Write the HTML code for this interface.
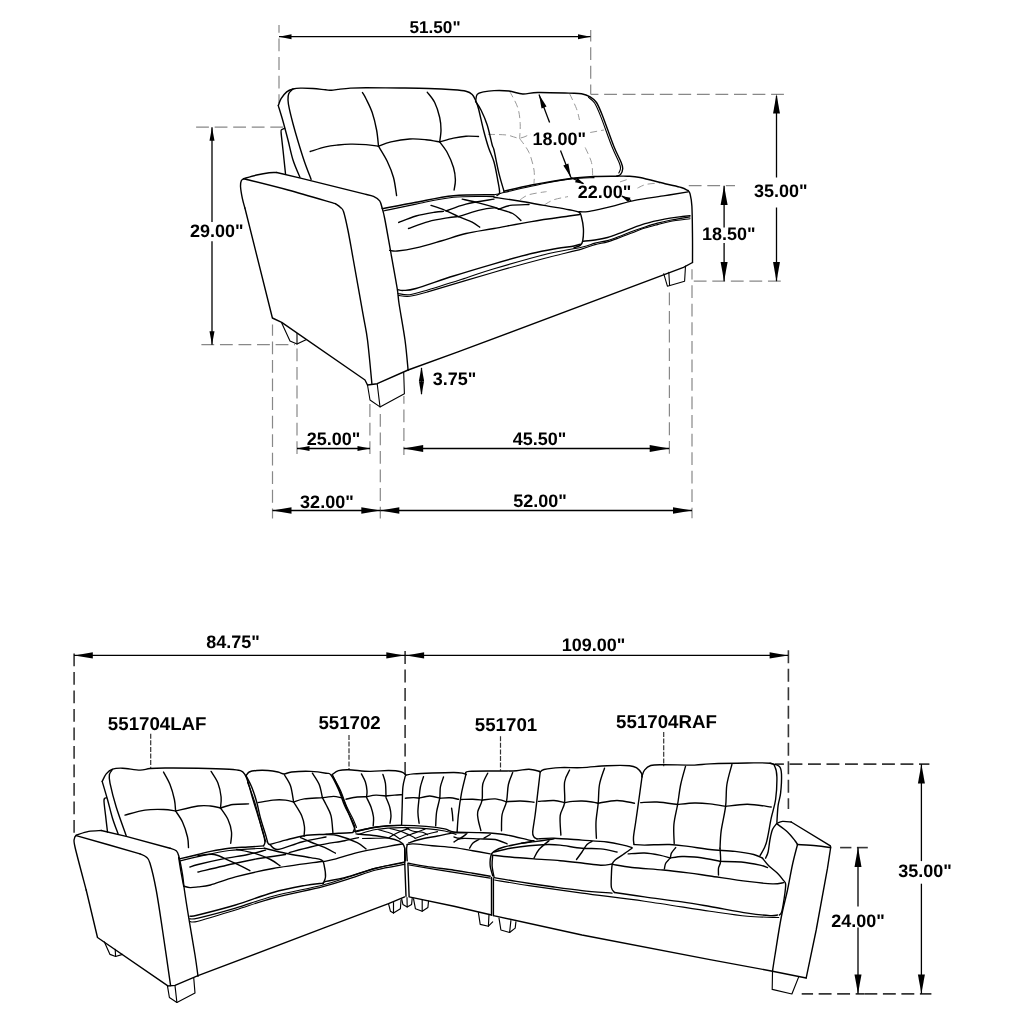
<!DOCTYPE html>
<html><head><meta charset="utf-8"><title>Sectional sofa dimensions</title>
<style>
html,body{margin:0;padding:0;background:#fff;}
body{width:1024px;height:1024px;overflow:hidden;font-family:"Liberation Sans",sans-serif;}
svg{display:block;filter:grayscale(1);}
</style></head><body>
<svg width="1024" height="1024" viewBox="0 0 1024 1024">
<rect width="1024" height="1024" fill="#fff"/>
<g fill="none" stroke="#888" stroke-width="1.2" stroke-dasharray="12.8 5.75">
<path d="M279 25L279 103" stroke-dashoffset="5"/>
<path d="M590.7 30L590.7 94.3" stroke-dashoffset="1.25"/>
<path d="M196.1 127.2L284.5 127.2" stroke-dashoffset="0"/>
<path d="M201.4 344.7L295 344.7" stroke-dashoffset="0"/>
<path d="M590.7 94.3L784 94.3" stroke-dashoffset="5.1"/>
<path d="M692.5 281.2L784 281.2" stroke-dashoffset="17.3"/>
<path d="M688.5 185.7L735 185.7" stroke-dashoffset="18.3"/>
<path d="M272.5 324.5L272.5 518.5" stroke-dashoffset="1.6"/>
<path d="M297 345L297 454.8" stroke-dashoffset="15.05"/>
<path d="M369.9 402.5L369.9 454.6" stroke-dashoffset="16.95"/>
<path d="M380.3 413.9L380.3 518.4" stroke-dashoffset="0"/>
<path d="M403.9 396L403.9 454.9" stroke-dashoffset="5"/>
<path d="M669.4 291L669.4 455" stroke-dashoffset="17.05"/>
<path d="M692 269.2L692 518.3" stroke-dashoffset="2.5"/>
</g>
<g fill="none" stroke="#9a9a9a" stroke-width="1.0" stroke-dasharray="7 4">
<path d="M509.6 91.2C510.95 93.92 515.93 102.08 517.7 107.5C519.47 112.92 519.88 118.55 520.2 123.7C520.52 128.85 519.7 135.95 519.6 138.4"/>
<path d="M519.6 138.4C521.17 140.75 526.6 147.23 529 152.5C531.4 157.77 533.17 164.8 534 170C534.83 175.2 534 181.42 534 183.7"/>
<path d="M488 134.4C491.08 134.5 501.23 134.38 506.5 135C511.77 135.62 515.52 138.3 519.6 138.1C523.68 137.9 529.1 134.52 531 133.8"/>
<path d="M590.2 132.5L604 130"/>
<path d="M569.6 93.7C570.75 96.2 574.85 104.32 576.5 108.7C578.15 113.08 579 118.12 579.5 120"/>
<path d="M585.2 147.5C586.25 150 590.25 157.6 591.5 162.5C592.75 167.4 592.5 174.5 592.7 176.9"/>
<path d="M520.2 199.7C521.67 198.87 524.62 196.05 529 194.7C533.38 193.35 543.58 192.12 546.5 191.6"/>
<path d="M544.6 204.7C546.17 203.87 550.1 201.05 554 199.7C557.9 198.35 565.67 197.12 568 196.6"/>
<path d="M620 181.9L627.5 179.4"/>
<path d="M637.5 188.1C638.95 187.48 642.45 185.25 646.2 184.4C649.95 183.55 657.7 183.23 660 183"/>
</g>
<g fill="none" stroke="#363636" stroke-width="1.6" stroke-dasharray="12.9 5.6">
<path d="M74.1 650.6L74.1 835.8" stroke-dashoffset="15.7"/>
<path d="M405.1 650.5L405.1 775" stroke-dashoffset="17.9"/>
<path d="M788.4 650.3L788.4 808.9" stroke-dashoffset="0"/>
<path d="M775 764.1L929.4 764.1" stroke-dashoffset="4"/>
<path d="M840.1 847.6L851.4 847.6" stroke-dasharray="none"/>
<path d="M856.9 847.6L867.8 847.6" stroke-dasharray="none"/>
<path d="M801.7 993.9L864.4 993.9" stroke-dashoffset="1.55"/>
<path d="M864.4 993.9L931.4 993.9" stroke-dashoffset="0"/>
</g>
<g fill="none" stroke="#333" stroke-width="1.2" stroke-dasharray="5 1.6">
<path d="M150.7 733.7L150.7 768.7"/>
<path d="M349 735L349 769.5"/>
<path d="M500.5 736.2L500.5 770.7"/>
<path d="M663.7 732L663.7 766.2"/>
</g>
<g fill="none" stroke="#000" stroke-width="1.4" stroke-linecap="round" stroke-linejoin="round">
<path d="M278.3 105.6C278.77 104.45 279.7 100.98 281.1 98.7C282.5 96.42 284.72 93.52 286.7 91.9C288.68 90.28 290.7 89.63 293 89C295.3 88.37 297.17 88.18 300.5 88.1C303.83 88.02 308.83 88.22 313 88.5C317.17 88.78 322.38 89.5 325.5 89.8C328.62 90.1 329.62 90.37 331.7 90.3C333.78 90.23 334.87 89.77 338 89.4C341.13 89.03 345.83 88.38 350.5 88.1C355.17 87.82 357.75 87.72 366 87.7C374.25 87.68 389.58 87.87 400 88C410.42 88.13 419.58 88.2 428.5 88.5C437.42 88.8 447.25 89.33 453.5 89.8C459.75 90.27 462.88 90.53 466 91.3C469.12 92.07 470.63 92.95 472.2 94.4C473.77 95.85 474.35 97.62 475.4 100C476.45 102.38 477.15 103.7 478.5 108.7C479.85 113.7 481.83 123.53 483.5 130C485.17 136.47 486.75 142.17 488.5 147.5C490.25 152.83 492.47 156.58 494 162C495.53 167.42 496.77 174.92 497.7 180C498.63 185.08 499.72 189.92 499.6 192.5C499.48 195.08 497.43 195 497 195.5"/>
<path d="M293 89C292.3 89.75 289.63 91.67 288.8 93.5C287.97 95.33 287.92 97.47 288 100C288.08 102.53 288.47 104.75 289.3 108.7C290.13 112.65 291.55 118.28 293 123.7C294.45 129.12 296.12 134.95 298 141.2C299.88 147.45 302.12 154.83 304.3 161.2C306.48 167.57 309.97 176.37 311.1 179.4"/>
<path d="M278.3 105.6C279.08 108.2 281.38 115.47 283 121.2C284.62 126.93 286.33 133.53 288 140C289.67 146.47 291.02 153.78 293 160C294.98 166.22 298.75 174.42 299.9 177.3"/>
<path d="M284.6 128.3C284.1 128.55 282.18 129.1 281.6 129.8C281.02 130.5 280.87 129.13 281.1 132.5C281.33 135.87 282.27 143.13 283 150C283.73 156.87 285.08 169.75 285.5 173.7"/>
<path d="M310.2 151.5C312.75 150.73 320.87 147.98 325.5 146.9C330.13 145.82 333.83 145.47 338 145C342.17 144.53 345.83 144.17 350.5 144.1C355.17 144.03 361.33 144.25 366 144.6C370.67 144.95 376.42 145.93 378.5 146.2"/>
<path d="M362.4 92.5C363 93.53 364.37 95.37 366 98.7C367.63 102.03 370.43 107.28 372.2 112.5C373.97 117.72 375.55 124.38 376.6 130C377.65 135.62 378.18 143.5 378.5 146.2"/>
<path d="M378.5 146.2C380.58 145.48 385.8 143.1 391 141.9C396.2 140.7 403.87 139.37 409.7 139C415.53 138.63 421 139.22 426 139.7C431 140.18 437.42 141.53 439.7 141.9"/>
<path d="M427.2 92.2C428.45 93.92 432.62 98.28 434.7 102.5C436.78 106.72 438.65 112.92 439.7 117.5C440.75 122.08 441 125.93 441 130C441 134.07 439.92 139.92 439.7 141.9"/>
<path d="M439.7 141.9C442 141.27 449.12 139.05 453.5 138.1C457.88 137.15 461.83 136.47 466 136.2C470.17 135.93 476.42 136.45 478.5 136.5"/>
<path d="M378.5 146.2C379.95 148.7 384.7 155.98 387.2 161.2C389.7 166.42 391.93 171.77 393.5 177.5C395.07 183.23 396.08 192.58 396.6 195.6"/>
<path d="M439.7 141.9C440.95 143.67 444.9 148.23 447.2 152.5C449.5 156.77 452.13 162.92 453.5 167.5C454.87 172.08 455.3 176.25 455.4 180C455.5 183.75 454.32 188.33 454.1 190"/>
<path d="M475.6 101.5C475.87 100.32 475.88 96 477.2 94.4C478.52 92.8 480.7 92.53 483.5 91.9C486.3 91.27 489.75 90.75 494 90.6C498.25 90.45 504.22 90.43 509 91C513.78 91.57 517.92 93.75 522.7 94C527.48 94.25 529.98 92.65 537.7 92.5C545.42 92.35 561.7 92.9 569 93.1C576.3 93.3 577.97 93.07 581.5 93.7C585.03 94.33 587.7 95.43 590.2 96.9C592.7 98.37 594.42 99.28 596.5 102.5C598.58 105.72 599.83 108.95 602.7 116.2C605.57 123.45 610.62 138.28 613.7 146C616.78 153.72 619.7 158.72 621.2 162.5C622.7 166.28 622.8 166.72 622.7 168.7C622.6 170.68 621.57 173.15 620.6 174.4C619.63 175.65 617.52 175.9 616.9 176.2"/>
<path d="M475.6 101.5C476.5 102.92 479.07 106.08 481 110C482.93 113.92 485.33 119.17 487.2 125C489.07 130.83 491.07 140.83 492.2 145C493.33 149.17 492.87 145.22 494 150C495.13 154.78 497.33 166.83 499 173.7C500.67 180.57 503.17 188.28 504 191.2"/>
<path d="M504 191.2C508.58 190.17 520.67 187.08 531.5 185C542.33 182.92 558.58 180.12 569 178.7C579.42 177.28 586.02 176.92 594 176.5C601.98 176.08 613.08 176.25 616.9 176.2"/>
<path d="M243.6 178.7C245.78 178.08 252.43 176 256.7 175C260.97 174 265.87 173.12 269.2 172.7C272.53 172.28 275.45 172.53 276.7 172.5"/>
<path d="M276.7 172.5L300.5 178.1L366 194.4"/>
<path d="M366 194.4C367.25 194.73 371.22 195.33 373.5 196.4C375.78 197.47 378.25 198.82 379.7 200.8C381.15 202.78 381.78 207.05 382.2 208.3"/>
<path d="M382.2 208.3C382.62 210 383.23 210.97 384.7 218.5C386.17 226.03 388.92 241.83 391 253.5C393.08 265.17 395.85 280.08 397.2 288.5C398.55 296.92 397.8 295.42 399.1 304C400.4 312.58 403.5 329 405 340C406.5 351 407.58 365 408.1 370"/>
<path d="M243.6 178.7C251 180.58 272.68 185.83 288 190C303.32 194.17 327.58 201.42 335.5 203.7"/>
<path d="M335.5 203.7C336.33 204.33 339.15 206.17 340.5 207.5C341.85 208.83 342.35 207.87 343.6 211.7C344.85 215.53 346.43 222.78 348 230.5C349.57 238.22 350.5 244.05 353 258C355.5 271.95 360.58 300.53 363 314.2C365.42 327.87 366.02 328.42 367.5 340C368.98 351.58 371.17 376.42 371.9 383.7"/>
<path d="M243.6 178.7C243.22 179.05 241.82 179.55 241.3 180.8C240.78 182.05 240.32 183.22 240.5 186.2C240.68 189.18 241.67 195.07 242.4 198.7C243.13 202.33 244.48 206.45 244.9 208"/>
<path d="M244.9 208L272.4 318L281.7 322.4L365 380L367.5 385"/>
<path d="M367.5 385L377.2 383.7L408.1 370"/>
<path d="M408.1 370L458 351.9L683.5 267.3L692.5 262.5"/>
<path d="M688.1 190.6C688.42 191.12 689.37 191.1 690 193.7C690.63 196.3 691.48 198.9 691.9 206.2C692.32 213.5 692.4 228.12 692.5 237.5C692.6 246.88 692.5 258.33 692.5 262.5"/>
<path d="M383.5 208.5C388.92 207.45 404.33 204.33 416 202.2C427.67 200.07 440.5 196.95 453.5 195.7C466.5 194.45 487.25 194.87 494 194.7"/>
<path d="M494 197.2C498.17 197.83 510.67 199.63 519 201C527.33 202.37 535.67 203.95 544 205.4C552.33 206.85 563.17 208.57 569 209.7C574.83 210.83 576.92 210.95 579 212.2C581.08 213.45 580.77 214.48 581.5 217.2C582.23 219.92 583.2 224.53 583.4 228.5C583.6 232.47 583.23 238.18 582.7 241C582.17 243.82 581.65 244.25 580.2 245.4C578.75 246.55 575.03 247.48 574 247.9"/>
<path d="M389.7 250.4C390.95 250.5 392.82 251.42 397.2 251C401.58 250.58 408.7 249.57 416 247.9C423.3 246.23 432.67 243.4 441 241C449.33 238.6 457.17 235.58 466 233.5C474.83 231.42 483.08 230.48 494 228.5C504.92 226.52 519 223.68 531.5 221.6C544 219.52 560.98 217.18 569 216C577.02 214.82 577.83 214.75 579.6 214.5"/>
<path d="M397.9 289.7C398.83 289.82 400.48 290.6 403.5 290.4C406.52 290.2 407.67 290.9 416 288.5C424.33 286.1 440.5 280.12 453.5 276C466.5 271.88 481 267.55 494 263.8C507 260.05 521.08 256.05 531.5 253.5C541.92 250.95 549.42 249.75 556.5 248.5C563.58 247.25 570.05 246.73 574 246C577.95 245.27 579.17 244.42 580.2 244.1"/>
<path d="M398.7 222.5C401.58 221.42 410 217.72 416 216C422 214.28 430.12 212.97 434.7 212.2C439.28 211.43 442.03 211.53 443.5 211.4"/>
<path d="M408.5 228.5C411.83 227.35 422.05 223.37 428.5 221.6C434.95 219.83 442.2 218.73 447.2 217.9C452.2 217.07 456.62 216.82 458.5 216.6"/>
<path d="M431 205.4C433.08 206.12 438.92 207.83 443.5 209.7C448.08 211.57 453.72 214.52 458.5 216.6C463.28 218.68 468.67 220.43 472.2 222.2C475.73 223.97 478.45 226.37 479.7 227.2"/>
<path d="M446 211C449.33 209.85 458 206.08 466 204.1C474 202.12 489.33 199.93 494 199.1"/>
<path d="M458.5 216.6C461.83 215.57 472.58 211.85 478.5 210.4C484.42 208.95 490.58 208.12 494 207.9C497.42 207.68 498.17 208.9 499 209.1"/>
<path d="M462.2 199.1C464.92 199.73 473.2 201.55 478.5 202.9C483.8 204.25 490.58 206.17 494 207.2C497.42 208.23 498.17 208.78 499 209.1"/>
<path d="M499 209.1C500.87 208.48 505.2 206.17 510.2 205.4C515.2 204.63 525.87 204.65 529 204.5"/>
<path d="M499 209.1C501.28 209.83 509.05 211.62 512.7 213.5C516.35 215.38 519.53 219.25 520.9 220.4"/>
<path d="M616.9 176.2C618.67 176.2 623.65 175.98 627.5 176.2C631.35 176.42 633.75 176.25 640 177.5C646.25 178.75 658.13 182.03 665 183.7C671.87 185.37 677.35 186.35 681.2 187.5C685.05 188.65 686.95 190.08 688.1 190.6"/>
<path d="M579 211.8C580.45 211.77 584.17 212.05 587.7 211.6C591.23 211.15 595.65 210.1 600.2 209.1C604.75 208.1 609.42 207.02 615 205.6C620.58 204.18 625.37 202.27 633.7 200.6C642.03 198.93 655.93 197.05 665 195.6C674.07 194.15 684.25 192.52 688.1 191.9"/>
<path d="M583.1 241.2C585.08 241 590.93 240.62 595 240C599.07 239.38 603.33 238.65 607.5 237.5C611.67 236.35 615.83 234.67 620 233.1C624.17 231.53 628.33 229.67 632.5 228.1C636.67 226.53 640.83 224.95 645 223.7C649.17 222.45 653.33 221.53 657.5 220.6C661.67 219.67 665.83 218.78 670 218.1C674.17 217.42 679.17 216.92 682.5 216.5C685.83 216.08 688.75 215.75 690 215.6"/>
</g>
<g fill="none" stroke="#000" stroke-width="1.1" stroke-linecap="round" stroke-linejoin="round">
<path d="M588.5 97.3C589.52 98.25 592.55 99.78 594.6 103C596.65 106.22 597.92 109.35 600.8 116.6C603.68 123.85 608.82 138.77 611.9 146.5C614.98 154.23 617.87 159.33 619.3 163C620.73 166.67 620.58 166.83 620.5 168.5C620.42 170.17 619.08 172.25 618.8 173"/>
<path d="M494 194.7C495.03 194.5 498.33 193.92 500.2 193.5C502.07 193.08 497.9 193.87 505.2 192.2C512.5 190.53 532.95 185.72 544 183.5C555.05 181.28 563.17 179.88 571.5 178.9C579.83 177.92 590.25 177.82 594 177.6"/>
<path d="M281.7 323L290 341L297 344L306 339.7"/>
<path d="M297 333.5L297 344"/>
<path d="M367.5 385L370 400L380 406.9L404.4 393.7L403.7 372.5"/>
<path d="M377.2 383.7L380 406.9"/>
<path d="M663.7 273.7L667.4 286.2L684.6 281.2L685.5 266"/>
<path d="M668.8 272.2L669.6 285.5"/>
<path d="M383.5 211C388.92 209.85 404.33 206.4 416 204.1C427.67 201.8 440.5 198.45 453.5 197.2C466.5 195.95 487.25 196.7 494 196.6"/>
<path d="M397.9 293.5C399.87 293.7 404.6 295.33 409.7 294.7C414.8 294.07 419.12 292.5 428.5 289.7C437.88 286.9 455.08 281.38 466 277.9C476.92 274.42 481 272.67 494 268.8C507 264.93 529.42 258.3 544 254.7C558.58 251.1 573 249.13 581.5 247.2C590 245.27 590.67 244.2 595 243.1C599.33 242 603.33 241.75 607.5 240.6C611.67 239.45 615.83 237.77 620 236.2C624.17 234.63 628.33 232.75 632.5 231.2C636.67 229.65 640.83 228.25 645 226.9C649.17 225.55 653.33 224.22 657.5 223.1C661.67 221.98 665.83 221.03 670 220.2C674.17 219.37 679.17 218.65 682.5 218.1C685.83 217.55 688.75 217.1 690 216.9"/>
<path d="M398.5 295.4C400.37 295.53 404.7 296.83 409.7 296.2C414.7 295.57 414.45 295.6 428.5 291.6C442.55 287.6 474.75 277.72 494 272.2C513.25 266.68 529.42 262.35 544 258.5C558.58 254.65 573 251.42 581.5 249.1C590 246.78 590.67 245.8 595 244.6C599.33 243.4 603.33 243.08 607.5 241.9C611.67 240.72 615.83 239.03 620 237.5C624.17 235.97 628.33 234.27 632.5 232.7C636.67 231.13 640.83 229.45 645 228.1C649.17 226.75 653.33 225.7 657.5 224.6C661.67 223.5 664.58 222.48 670 221.5C675.42 220.52 686.67 219.17 690 218.7"/>
</g>
<g fill="none" stroke="#000" stroke-width="1.4" stroke-linecap="round" stroke-linejoin="round">
<path d="M102.2 781.4C102.87 780.15 104.48 775.93 106.2 773.9C107.92 771.87 109.78 770.15 112.5 769.2C115.22 768.25 117.92 768.05 122.5 768.2C127.08 768.35 135.42 770.05 140 770.1C144.58 770.15 145.83 768.85 150 768.5C154.17 768.15 157 768.05 165 768C173 767.95 187.3 768 198 768.2C208.7 768.4 222.12 768.78 229.2 769.2C236.28 769.62 237.88 769.82 240.5 770.7C243.12 771.58 243.65 772.62 244.9 774.5C246.15 776.38 246.65 777.83 248 782C249.35 786.17 251.33 793.88 253 799.5C254.67 805.12 256.33 810.28 258 815.7C259.67 821.12 261.85 827.62 263 832C264.15 836.38 264.8 839.72 264.9 842C265 844.28 263.82 845.08 263.6 845.7"/>
<path d="M112.5 769.5C111.98 770.33 109.82 772.22 109.4 774.5C108.98 776.78 108.87 777.78 110 783.2C111.13 788.62 113.5 798.25 116.2 807C118.9 815.75 124.53 830.92 126.2 835.7"/>
<path d="M102.2 781.4C103.08 784.42 105.78 793.37 107.5 799.5C109.22 805.63 110.73 812.47 112.5 818.2C114.27 823.93 117.17 831.28 118.1 833.9"/>
<path d="M106.4 797.8C106 798.18 104.13 797.12 104 800.1C103.87 803.08 105.02 810.38 105.6 815.7C106.18 821.02 107.18 829.28 107.5 832"/>
<path d="M263.6 845.9C261 846.08 253.73 846.62 248 847C242.27 847.38 235.45 847.47 229.2 848.2C222.95 848.93 215.7 850.35 210.5 851.4C205.3 852.45 203.18 853.25 198 854.5C192.82 855.75 182.5 858.17 179.4 858.9"/>
<path d="M125 815.1C128.33 814.27 138.55 811.03 145 810.1C151.45 809.17 158.6 809.35 163.7 809.5C168.8 809.65 173.62 810.75 175.6 811"/>
<path d="M163.5 772C164.58 774.08 168.18 779.92 170 784.5C171.82 789.08 173.47 795.08 174.4 799.5C175.33 803.92 175.4 809.08 175.6 811"/>
<path d="M175.6 811C179.33 810.17 192.18 806.83 198 806C203.82 805.17 206.75 805.67 210.5 806C214.25 806.33 218.83 807.67 220.5 808"/>
<path d="M175.6 811C176.75 812.83 180.52 817.67 182.5 822C184.48 826.33 186.5 832.73 187.5 837C188.5 841.27 188.33 845.83 188.5 847.6"/>
<path d="M211.1 771.4C212.25 773.37 216.33 778.93 218 783.2C219.67 787.47 220.68 792.87 221.1 797C221.52 801.13 220.6 806.17 220.5 808"/>
<path d="M220.5 808C222.58 807.42 228.32 805.18 233 804.5C237.68 803.82 246 804 248.6 803.9"/>
<path d="M220.5 808C221.75 809.92 226.17 815.5 228 819.5C229.83 823.5 231.05 828.05 231.5 832C231.95 835.95 230.83 841.33 230.7 843.2"/>
<path d="M246.1 775.7C246.62 775.08 247.43 772.87 249.2 772C250.97 771.13 253.57 770.75 256.7 770.5C259.83 770.25 264.45 770.25 268 770.5C271.55 770.75 275.3 771.43 278 772C280.7 772.57 281.92 773.9 284.2 773.9C286.48 773.9 287.32 772.42 291.7 772C296.08 771.58 304.78 771.2 310.5 771.4C316.22 771.6 322.58 772.58 326 773.2C329.42 773.82 328.92 772.38 331 775.1C333.08 777.82 336.22 784.4 338.5 789.5C340.78 794.6 342.62 800.92 344.7 805.7C346.78 810.48 349.33 814.65 351 818.2C352.67 821.75 354.38 824.65 354.7 827C355.02 829.35 353.2 831.42 352.9 832.3"/>
<path d="M246.1 775.7C247.03 777.58 249.93 782.62 251.7 787C253.47 791.38 255.23 796.8 256.7 802C258.17 807.2 259.03 812.78 260.5 818.2C261.97 823.62 264.25 830.33 265.5 834.5C266.75 838.67 267.27 841.53 268 843.2C268.73 844.87 269.58 844.28 269.9 844.5"/>
<path d="M269.9 844.5C272.5 843.77 279.78 841.57 285.5 840.1C291.22 838.63 297.45 836.68 304.2 835.7C310.95 834.72 320.28 834.62 326 834.2C331.72 833.78 334.02 833.47 338.5 833.2C342.98 832.93 350.5 832.7 352.9 832.6"/>
<path d="M258 802.6C260.5 802.18 268.42 800.52 273 800.1C277.58 799.68 282.07 799.78 285.5 800.1C288.93 800.42 292.25 801.68 293.6 802"/>
<path d="M293.6 802C295.37 801.48 299.3 799.63 304.2 798.9C309.1 798.17 318.12 798.02 323 797.6C327.88 797.18 330.5 796.4 333.5 796.4C336.5 796.4 339.75 797.4 341 797.6"/>
<path d="M284.2 774.5C285.25 776.37 288.93 781.12 290.5 785.7C292.07 790.28 293.08 799.28 293.6 802"/>
<path d="M293.6 802C294.95 804.28 299.88 811.53 301.7 815.7C303.52 819.87 304.12 823.55 304.5 827C304.88 830.45 304.08 834.83 304 836.4"/>
<path d="M312.4 773.2C313.53 775.08 317.53 780.43 319.2 784.5C320.87 788.57 321.87 795.42 322.4 797.6"/>
<path d="M322.4 797.6C323 798.75 324.57 801.48 326 804.5C327.43 807.52 329.85 811.02 331 815.7C332.15 820.38 332.58 829.78 332.9 832.6"/>
<path d="M332.2 774.5C333.25 773.87 335.78 771.5 338.5 770.7C341.22 769.9 343.3 769.58 348.5 769.7C353.7 769.82 363.03 771.27 369.7 771.4C376.37 771.53 383.28 770.45 388.5 770.5C393.72 770.55 398.08 770.98 401 771.7C403.92 772.42 405.17 774.28 406 774.8"/>
<path d="M332.2 774.5C333.45 777.2 337.2 784.87 339.7 790.7C342.2 796.53 344.8 803.45 347.2 809.5C349.6 815.55 352.77 823.42 354.1 827C355.43 830.58 355.02 830.33 355.2 831"/>
<path d="M405.4 775.7C404.98 777.58 403.43 782 402.9 787C402.37 792 402.42 799.35 402.2 805.7C401.98 812.05 401.7 821.87 401.6 825.1"/>
<path d="M354.7 831.4C357.2 830.87 364.07 829.15 369.7 828.2C375.33 827.25 383.18 826.17 388.5 825.7C393.82 825.23 399.42 825.45 401.6 825.4"/>
<path d="M346 799.2C347.87 798.83 353.77 797.42 357.2 797C360.63 796.58 365.03 796.75 366.6 796.7"/>
<path d="M366.6 796.7C368.17 796.43 372.77 795.22 376 795.1C379.23 794.98 384.33 795.85 386 796"/>
<path d="M386 796C387.45 795.85 392.1 795.32 394.7 795.1C397.3 794.88 400.45 794.77 401.6 794.7"/>
<path d="M361.4 773.9C362.07 775.25 364.47 779.2 365.4 782C366.33 784.8 366.8 788.25 367 790.7C367.2 793.15 366.67 795.7 366.6 796.7"/>
<path d="M366.6 797.5C367.33 799.08 369.85 803.75 371 807C372.15 810.25 373.13 813.88 373.5 817C373.87 820.12 373.25 824.25 373.2 825.7"/>
<path d="M382.9 774.5C383.32 775.95 384.88 779.62 385.4 783.2C385.92 786.78 385.9 793.87 386 796"/>
<path d="M386 797.5C386.62 799.08 388.87 803.97 389.7 807C390.53 810.03 390.95 813 391 815.7C391.05 818.4 390.17 821.95 390 823.2"/>
<path d="M406 775.1C407.25 774.9 409.13 774.25 413.5 773.9C417.87 773.55 425.45 773.23 432.2 773C438.95 772.77 448.92 772.47 454 772.5C459.08 772.53 460.72 772.87 462.7 773.2C464.68 773.53 465.37 774.28 465.9 774.5"/>
<path d="M405.4 798.2C406.75 798.1 411.22 797.6 413.5 797.6C415.78 797.6 418.17 798.1 419.1 798.2"/>
<path d="M419.1 798.2C420.87 797.83 426.27 796 429.7 796C433.13 796 438.03 797.83 439.7 798.2"/>
<path d="M439.7 798.2C441.42 798.13 446.87 797.62 450 797.8C453.13 797.98 457.08 799.05 458.5 799.3"/>
<path d="M423.5 776.7C422.98 778.42 421.13 783.42 420.4 787C419.67 790.58 419.52 794.03 419.1 798.2C418.68 802.37 417.9 807.83 417.9 812C417.9 816.17 418.9 821.33 419.1 823.2"/>
<path d="M443.5 777C442.98 778.67 441.03 783.47 440.4 787C439.77 790.53 440.33 794.03 439.7 798.2C439.07 802.37 437.27 807.42 436.6 812C435.93 816.58 435.85 823.42 435.7 825.7"/>
<path d="M451.6 808.2C451.73 809.17 452.18 811.92 452.4 814C452.62 816.08 452.82 819.58 452.9 820.7"/>
<path d="M465.9 774.5C466.42 773.98 463.28 771.98 469 771.4C474.72 770.82 492.28 771.12 500.2 771C508.12 770.88 511.7 771 516.5 770.7C521.3 770.4 525.05 769.05 529 769.2C532.95 769.35 538.33 771.2 540.2 771.6"/>
<path d="M465.9 774.5C465.17 777.62 462.75 786.53 461.5 793.2C460.25 799.87 459.13 808.03 458.4 814.5C457.67 820.97 457.32 829.08 457.1 832"/>
<path d="M540.2 772C539.78 775.53 538.53 786.12 537.7 793.2C536.87 800.28 536.03 808.03 535.2 814.5C534.37 820.97 532.9 828.25 532.7 832C532.5 835.75 533.27 835.85 534 837C534.73 838.15 536.58 838.58 537.1 838.9"/>
<path d="M461.5 799.5C463.37 799.45 469.27 799.1 472.7 799.2C476.13 799.3 480.53 799.95 482.1 800.1"/>
<path d="M482.1 800.1C484.28 799.9 491.13 798.63 495.2 798.9C499.27 799.17 504.62 801.23 506.5 801.7"/>
<path d="M506.5 801.7C508.78 801.58 515.62 800.92 520.2 801C524.78 801.08 531.7 802 534 802.2"/>
<path d="M487.7 773.2C486.87 775.08 483.63 780.02 482.7 784.5C481.77 788.98 482.93 795.52 482.1 800.1C481.27 804.68 478.32 808.57 477.7 812C477.08 815.43 477.87 817.62 478.4 820.7C478.93 823.78 480.48 828.87 480.9 830.5"/>
<path d="M512.7 772.6C511.98 774.58 509.43 779.65 508.4 784.5C507.37 789.35 507.55 796.7 506.5 801.7C505.45 806.7 502.93 809.67 502.1 814.5C501.27 819.33 501.6 828 501.5 830.7"/>
<path d="M540.2 772C540.83 771.58 540.67 770.23 544 769.5C547.33 768.77 553.87 767.92 560.2 767.6C566.53 767.28 574.2 767.92 582 767.6C589.8 767.28 599.08 766.02 607 765.7C614.92 765.38 624.5 765.28 629.5 765.7C634.5 766.12 635.02 766.95 637 768.2C638.98 769.45 640.57 771.73 641.4 773.2C642.23 774.67 641.9 776.37 642 777"/>
<path d="M642 777C641.48 780.75 639.95 792 638.9 799.5C637.85 807 636.6 815.75 635.7 822C634.8 828.25 633.8 833.35 633.5 837C633.2 840.65 633.83 842.75 633.9 843.9"/>
<path d="M537.1 838.9C539.92 838.78 546.52 838 554 838.2C561.48 838.4 573.17 839.47 582 840.1C590.83 840.73 600.13 841.17 607 842C613.87 842.83 619.03 844.17 623.2 845.1C627.37 846.03 630.53 847.18 632 847.6"/>
<path d="M538.4 801.4C541 801.25 549.63 800.3 554 800.5C558.37 800.7 562.83 802.25 564.6 802.6"/>
<path d="M564.6 802.6C565.95 802.4 569.8 801.67 572.7 801.4C575.6 801.13 578.78 800.9 582 801C585.22 801.1 589.3 801.63 592 802C594.7 802.37 597.17 803 598.2 803.2"/>
<path d="M598.2 803.2C601.33 802.75 610.95 800.5 617 800.5C623.05 800.5 631.58 802.75 634.5 803.2"/>
<path d="M569.6 770.1C568.77 772.08 565.43 776.58 564.6 782C563.77 787.42 565.33 796.98 564.6 802.6C563.87 808.22 560.82 810.28 560.2 815.7C559.58 821.12 560.78 831.87 560.9 835.1"/>
<path d="M604.5 768.2C603.67 770.92 600.55 778.67 599.5 784.5C598.45 790.33 598.78 796.95 598.2 803.2C597.62 809.45 596.3 816.17 596 822C595.7 827.83 596.33 835.5 596.4 838.2"/>
<path d="M642 776.4C642.42 775.35 643.05 771.92 644.5 770.1C645.95 768.28 647.58 766.4 650.7 765.5C653.82 764.6 655.9 764.77 663.2 764.7C670.5 764.63 686.7 765.23 694.5 765.1C702.3 764.97 701.17 764.25 710 763.9C718.83 763.55 737.5 763.12 747.5 763C757.5 762.88 765.42 762.53 770 763.2C774.58 763.87 773.85 764.7 775 767C776.15 769.3 776.8 771.58 776.9 777C777 782.42 776.55 792.63 775.6 799.5C774.65 806.37 772.77 810.92 771.2 818.2C769.63 825.48 768.07 836.95 766.2 843.2C764.33 849.45 761.03 853.62 760 855.7"/>
<path d="M770 763.2C771.57 763.73 777.48 764.52 779.4 766.4C781.32 768.28 781.3 770.03 781.5 774.5C781.7 778.97 781.17 788 780.6 793.2C780.03 798.4 778.72 800.9 778.1 805.7C777.48 810.5 777.1 819.28 776.9 822"/>
<path d="M633.9 844.5C635.67 844.6 638.57 845.1 644.5 845.1C650.43 845.1 662.22 844.28 669.5 844.5C676.78 844.72 681.45 845.57 688.2 846.4C694.95 847.23 702.2 848.67 710 849.5C717.8 850.33 727.72 850.57 735 851.4C742.28 852.23 749.12 853.37 753.7 854.5C758.28 855.63 761.03 857.58 762.5 858.2"/>
<path d="M640.7 802.6C643.42 802.5 650.85 801.68 657 802C663.15 802.32 674.17 804.08 677.6 804.5"/>
<path d="M677.6 804.5C680.42 804.25 689.1 803.1 694.5 803C699.9 802.9 704.82 803.33 710 803.9C715.18 804.47 723 805.98 725.6 806.4"/>
<path d="M725.6 806.4C729.25 806.03 739.9 804.1 747.5 804.2C755.1 804.3 767.25 806.53 771.2 807"/>
<path d="M685.5 766.4C684.7 769.42 682.02 778.15 680.7 784.5C679.38 790.85 678.73 797.83 677.6 804.5C676.47 811.17 674.47 818 673.9 824.5C673.33 831 674.15 840.33 674.2 843.5"/>
<path d="M731.9 764.5C731.07 767.83 727.95 777.52 726.9 784.5C725.85 791.48 726.55 798.7 725.6 806.4C724.65 814.1 722.13 823.73 721.2 830.7C720.27 837.67 720.2 845.28 720 848.2"/>
<path d="M76.2 835.1C78.28 834.48 84.53 832.17 88.7 831.4C92.87 830.63 99.12 830.65 101.2 830.5"/>
<path d="M101.2 830.5L126.2 836.4L170 848.2"/>
<path d="M170 848.2C171.03 848.62 174.75 849.45 176.2 850.7C177.65 851.95 177.65 851.73 178.7 855.7C179.75 859.67 181.55 868.78 182.5 874.5C183.45 880.22 183.37 882.83 184.4 890C185.43 897.17 186.93 906.67 188.7 917.5C190.47 928.33 193.45 945.22 195 955C196.55 964.78 197.5 972.67 198 976.2"/>
<path d="M76.2 835.7L107.5 844.5L140 853.9"/>
<path d="M140 853.9C141.03 854.42 144.53 855.45 146.2 857C147.87 858.55 148.33 857.7 150 863.2C151.67 868.7 154.12 878.87 156.2 890C158.28 901.13 160.1 914.07 162.5 930C164.9 945.93 169.25 976.33 170.6 985.6"/>
<path d="M76.2 835.4C75.92 835.87 74.7 836.27 74.5 838.2C74.3 840.13 73.05 838.37 75 847C76.95 855.63 84.33 882.83 86.2 890"/>
<path d="M86.2 890L97.5 937.5L167.5 985.6"/>
<path d="M167.5 986L175 985.4L198 975.6"/>
<path d="M198 975.6L326 927.2L388.5 903.7L404.7 896.9"/>
<path d="M404.7 848L404.7 862L406 896.2"/>
<path d="M407.9 863.2L409.1 896.2"/>
<path d="M409.1 896.9L454 906.2L491.5 915"/>
<path d="M491.5 877.5L491.5 915"/>
<path d="M493.4 878.7L493.4 915.6"/>
<path d="M493.4 915.6L582 935L710 959.6L772.5 971.2"/>
<path d="M264.2 848.2C267.75 849.03 277.78 851.63 285.5 853.2C293.22 854.77 304.47 856.45 310.5 857.6C316.53 858.75 319.42 858.75 321.7 860.1C323.98 861.45 323.57 862.88 324.2 865.7C324.83 868.52 325.7 873.97 325.5 877C325.3 880.03 323.42 882.75 323 883.9"/>
<path d="M183.7 886.2C184.75 886.43 187.62 887.48 190 887.6C192.38 887.72 194.58 887.33 198 886.9C201.42 886.47 204.25 886.67 210.5 885C216.75 883.33 225.08 879.65 235.5 876.9C245.92 874.15 258.42 871.1 273 868.5C287.58 865.9 314.67 862.5 323 861.3"/>
<path d="M178.7 857.5C179.08 859.92 180.17 867.22 181 872C181.83 876.78 183.25 883.83 183.7 886.2"/>
<path d="M190 916.2C191.33 916 190.42 916.87 198 915C205.58 913.13 223 908.75 235.5 905C248 901.25 261.55 895.73 273 892.5C284.45 889.27 295.87 887.17 304.2 885.6C312.53 884.03 319.87 883.52 323 883.1"/>
<path d="M198 855.7C200.7 855.5 209 853.67 214.2 854.5C219.4 855.33 224.62 858.72 229.2 860.7C233.78 862.68 238.25 864.73 241.7 866.4C245.15 868.07 248.53 869.98 249.9 870.7"/>
<path d="M236.7 849.5C239.62 850.12 248.57 851.53 254.2 853.2C259.83 854.87 266.22 857.42 270.5 859.5C274.78 861.58 278.33 864.67 279.9 865.7"/>
<path d="M190 867C191.33 866.58 192.5 865.85 198 864.5C203.5 863.15 214.67 860.57 223 858.9C231.33 857.23 240.92 855.97 248 854.5C255.08 853.03 262.58 850.83 265.5 850.1"/>
<path d="M198 872C204.25 870.53 225.08 865.5 235.5 863.2C245.92 860.9 252.17 859.65 260.5 858.2C268.83 856.75 281.33 855.12 285.5 854.5"/>
<path d="M269.9 844.5C271.25 845.33 272.7 849.92 278 849.5C283.3 849.08 293.7 844.08 301.7 842C309.7 839.92 321.95 837.83 326 837"/>
<path d="M289.2 852.6C292.75 851.67 304.37 848.45 310.5 847C316.63 845.55 320.3 844.95 326 843.9C331.7 842.85 339.28 841.75 344.7 840.7C350.12 839.65 356.2 838.12 358.5 837.6"/>
<path d="M300.5 837.6C302.17 838.33 306.25 840.23 310.5 842C314.75 843.77 321.85 846.33 326 848.2C330.15 850.07 333.83 852.37 335.4 853.2"/>
<path d="M326 834.5C328.08 834.7 333.3 834.35 338.5 835.7C343.7 837.05 352.62 840.4 357.2 842.6C361.78 844.8 364.53 847.85 366 848.9"/>
<path d="M356 833.9C359.33 834.2 369.55 834.77 376 835.7C382.45 836.63 390.33 838.25 394.7 839.5C399.07 840.75 400.53 841.75 402.2 843.2C403.87 844.65 404.17 845.28 404.7 848.2C405.23 851.12 405.28 858.62 405.4 860.7"/>
<path d="M324 861.5C326 861.07 330.47 860.38 336 858.9C341.53 857.42 348.45 854.68 357.2 852.6C365.95 850.52 380.88 847.85 388.5 846.4C396.12 844.95 400.5 844.32 402.9 843.9"/>
<path d="M323 883.5C323.5 883.15 322.38 882.38 326 881.4C329.62 880.42 336.37 879.8 344.7 877.6C353.03 875.4 366 870.8 376 868.2C386 865.6 399.92 863.03 404.7 862"/>
<path d="M355.4 832C358.83 831.17 368.3 828.1 376 827C383.7 825.9 393.27 825.5 401.6 825.4C409.93 825.3 418.82 825.82 426 826.4C433.18 826.98 440.03 827.97 444.7 828.9C449.37 829.83 448.28 831.38 454 832C459.72 832.62 470.67 832.18 479 832.6C487.33 833.02 495.67 833.25 504 834.5C512.33 835.75 524 839.07 529 840.1C534 841.13 533.17 840.6 534 840.7"/>
<path d="M407.2 844.5C408.25 844.4 409.33 843.7 413.5 843.9C417.67 844.1 425.45 845.08 432.2 845.7C438.95 846.32 447.25 846.77 454 847.6C460.75 848.43 466.67 849.65 472.7 850.7C478.73 851.75 487.28 853.37 490.2 853.9"/>
<path d="M407.2 844.5C407.1 845.33 406.6 846.8 406.6 849.5C406.6 852.2 407.1 858.83 407.2 860.7"/>
<path d="M408.5 863.2C411.42 863.73 418.42 865.23 426 866.4C433.58 867.57 446.22 869.07 454 870.2C461.78 871.33 466.67 872.2 472.7 873.2C478.73 874.2 487.28 875.7 490.2 876.2"/>
<path d="M531.5 841.4C526.92 842.33 510.25 845.33 504 847C497.75 848.67 496.18 849.95 494 851.4C491.82 852.85 491.53 853.32 490.9 855.7C490.27 858.08 489.9 862.37 490.2 865.7C490.5 869.03 492.28 874.03 492.7 875.7"/>
<path d="M408.7 842.9C410.37 842.37 413.9 840.85 418.7 839.7C423.5 838.55 431.67 837.13 437.5 836C443.33 834.87 448.7 833.42 453.7 832.9C458.7 832.38 465.2 832.9 467.5 832.9"/>
<path d="M454 837C455.03 837.2 458.12 838.72 460.2 838.2C462.28 837.68 465.45 834.62 466.5 833.9"/>
<path d="M454 842C455.17 841.42 456.83 839.02 461 838.5C465.17 837.98 473.3 838.73 479 838.9C484.7 839.07 490.52 838.67 495.2 839.5C499.88 840.33 505.12 843.17 507.1 843.9"/>
<path d="M469.6 848.2C470.12 847.37 471.13 844.65 472.7 843.2C474.27 841.75 477.95 840.12 479 839.5"/>
<path d="M484 838.2L490.2 834.5"/>
<path d="M494 852C496.7 851.37 504.37 849.25 510.2 848.2C516.03 847.15 522.75 846.32 529 845.7C535.25 845.08 542.5 844.6 547.7 844.5C552.9 844.4 554.48 844.48 560.2 845.1C565.92 845.72 575.25 847.57 582 848.2C588.75 848.83 594.87 848.27 600.7 848.9C606.53 849.53 614.28 851.48 617 852"/>
<path d="M521.5 843.2C524.83 842.78 536.08 841.42 541.5 840.7C546.92 839.98 551.92 839.2 554 838.9"/>
<path d="M492.7 855.1C495.62 855.42 503.32 856.37 510.2 857C517.08 857.63 525.67 858.28 534 858.9C542.33 859.52 552.2 860.02 560.2 860.7C568.2 861.38 575.25 862.25 582 863C588.75 863.75 595.7 865.03 600.7 865.2C605.7 865.37 610.12 864.2 612 864"/>
<path d="M492.7 855.1C492.6 856.87 491.88 862.05 492.1 865.7C492.32 869.35 493.68 875.12 494 877"/>
<path d="M494 877.6C497.75 878.23 506.5 879.83 516.5 881.4C526.5 882.97 543.08 885.47 554 887C564.92 888.53 572.33 889.58 582 890.6C591.67 891.62 607 892.68 612 893.1"/>
<path d="M534 858.2C534.83 856.75 536.5 852.42 539 849.5C541.5 846.58 547.33 842.17 549 840.7"/>
<path d="M576.5 859.5C577.42 858.25 580.25 854.5 582 852C583.75 849.5 585.33 846.27 587 844.5C588.67 842.73 591.17 841.92 592 841.4"/>
<path d="M632 848.2C630.53 849.25 625.92 852.62 623.2 854.5C620.48 856.38 617.52 857.88 615.7 859.5C613.88 861.12 613.02 861.62 612.3 864.2C611.58 866.78 611.55 871.12 611.4 875C611.25 878.88 610.88 884.58 611.4 887.5C611.92 890.42 613.98 891.67 614.5 892.5"/>
<path d="M612.6 864.4C615.83 864.92 623.57 866.57 632 867.5C640.43 868.43 653.83 869.1 663.2 870C672.57 870.9 680.4 871.9 688.2 872.9C696 873.9 700.12 874.58 710 876C719.88 877.42 737.08 880.08 747.5 881.4C757.92 882.72 766.47 883.7 772.5 883.9C778.53 884.1 781.83 882.82 783.7 882.6"/>
<path d="M614.5 892.5C619.5 893.23 633.25 895.33 644.5 896.9C655.75 898.47 671.08 900.3 682 901.9C692.92 903.5 699.08 904.63 710 906.5C720.92 908.37 737.5 911.58 747.5 913.1C757.5 914.62 765 915.28 770 915.6C775 915.92 776.25 915.1 777.5 915"/>
<path d="M762.5 858.2C763.53 859.45 766.2 863.2 768.7 865.7C771.2 868.2 775 870.7 777.5 873.2C780 875.7 782.35 878.9 783.7 880.7C785.05 882.5 785.38 882.03 785.6 884C785.82 885.97 785.62 887.97 785 892.5C784.38 897.03 782.83 907.45 781.9 911.2C780.97 914.95 779.82 914.37 779.4 915"/>
<path d="M628.2 853.9C630.92 853.75 639.28 852.8 644.5 853C649.72 853.2 655.23 854.27 659.5 855.1C663.77 855.93 668.33 857.52 670.1 858"/>
<path d="M670.1 858C672.08 857.75 677.93 856.67 682 856.5C686.07 856.33 689.83 856.55 694.5 857C699.17 857.45 705.65 858.47 710 859.2C714.35 859.93 718.83 861.03 720.6 861.4"/>
<path d="M720.6 861.4C724.03 861.5 734.63 861.38 741.2 862C747.77 862.62 755.62 864.17 760 865.1C764.38 866.03 766.25 867.18 767.5 867.6"/>
<path d="M675.7 847.6C674.98 848.53 672.33 851.47 671.4 853.2C670.47 854.93 671.05 856.33 670.1 858C669.15 859.67 666.65 861.38 665.7 863.2C664.75 865.02 664.62 867.95 664.4 868.9"/>
<path d="M720 848.2C720.1 850.4 720.85 858.07 720.6 861.4C720.35 864.73 718.85 865.92 718.5 868.2C718.15 870.48 718.5 873.95 718.5 875.1"/>
<path d="M776.9 823.2C777.83 822.9 780.12 821.6 782.5 821.4C784.88 821.2 789.75 821.9 791.2 822"/>
<path d="M791.2 822L830 845.7"/>
<path d="M830 845.7L830.8 847"/>
<path d="M776.9 823.9C778.67 825.25 784.48 829.2 787.5 832C790.52 834.8 793.33 838.62 795 840.7C796.67 842.78 797.08 843.87 797.5 844.5"/>
<path d="M797.5 844.5C800.62 844.7 810.68 845.18 816.2 845.7C821.72 846.22 828.2 847.28 830.6 847.6"/>
<path d="M797.5 844.5C796.67 847.83 794.17 856.92 792.5 864.5C790.83 872.08 789.38 881.17 787.5 890C785.62 898.83 783.28 906.67 781.2 917.5C779.12 928.33 776.45 946.05 775 955C773.55 963.95 772.92 968.5 772.5 971.2"/>
<path d="M830.6 848L827.5 868.2L816.2 930L806.2 977.8"/>
<path d="M772.5 971.2L806.2 978"/>
<path d="M776.9 823.2C776.17 824.25 773.65 826.78 772.5 829.5C771.35 832.22 770.73 835.75 770 839.5C769.27 843.25 768.83 848.88 768.1 852C767.37 855.12 766.02 857.17 765.6 858.2"/>
</g>
<g fill="none" stroke="#000" stroke-width="1.15" stroke-linecap="round" stroke-linejoin="round">
<path d="M264.2 848.2C258.37 848.58 240.23 849.1 229.2 850.5C218.17 851.9 206.2 854.85 198 856.6C189.8 858.35 183 860.27 180 861"/>
<path d="M247.5 782C248.75 785.5 252.58 795 255 803C257.42 811 260.17 823.5 262 830C263.83 836.5 265.33 840 266 842"/>
<path d="M333 776.5C334.25 778.83 338.22 785.5 340.5 790.5C342.78 795.5 344.62 801.75 346.7 806.5C348.78 811.25 351.37 815.5 353 819C354.63 822.5 355.92 826.08 356.5 827.5"/>
<path d="M104.4 941.9L110 954.4L115.6 956.5L122.5 954.4"/>
<path d="M115.2 949.4L115.6 956.5"/>
<path d="M167.5 986.2L169.4 997.5L176.9 1002.5L195 993.1L193.7 977.5"/>
<path d="M175 985.6L176.9 1002.5"/>
<path d="M388.5 903.7L390.4 911.2L393.5 913.1L400.4 908.7L401 900"/>
<path d="M393.5 902.5L393.5 913.1"/>
<path d="M401.6 898.7L402.9 904.4L407.2 906.9L411.6 904.4L412.2 898.1"/>
<path d="M407 897.5L407.2 906.9"/>
<path d="M413.5 898.7L415.4 908.7L422.2 911.2L427.9 907.5L428.5 901.2"/>
<path d="M422.2 900L422.2 911.2"/>
<path d="M478.4 912.5L480.2 924.4L488.4 926.2L492.7 921.9"/>
<path d="M489 914.4L488.4 926.2"/>
<path d="M499 918.1L500.9 930L509.6 932.5L515.2 928.1L515.9 921.9"/>
<path d="M510.9 920.6L509.6 932.5"/>
<path d="M189.4 918.8C190.83 918.68 190.32 919.88 198 918.1C205.68 916.32 223 911.75 235.5 908.1C248 904.45 258.42 900.05 273 896.2C287.58 892.35 310 888.33 323 885C336 881.67 342.17 879.02 351 876.2C359.83 873.38 367.05 870.38 376 868.1C384.95 865.82 399.92 863.43 404.7 862.5"/>
<path d="M189.8 921.4C191.17 921.37 190.38 923.1 198 921.2C205.62 919.3 223 913.85 235.5 910C248 906.15 258.42 902 273 898.1C287.58 894.2 310 889.93 323 886.6C336 883.27 342.17 880.87 351 878.1C359.83 875.33 367.05 872.28 376 870C384.95 867.72 399.92 865.33 404.7 864.4"/>
<path d="M358 834.5C361 833.67 368.73 830.65 376 829.5C383.27 828.35 393.27 827.75 401.6 827.6C409.93 827.45 418.82 828.03 426 828.6C433.18 829.17 439.7 830.02 444.7 831C449.7 831.98 454.12 833.92 456 834.5"/>
<path d="M409.1 865C416.58 866.23 440.48 870.22 454 872.4C467.52 874.58 484.17 877.15 490.2 878.1"/>
<path d="M378.7 829.7C380.17 830.12 385 831.37 387.5 832.2C390 833.03 391.62 833.55 393.7 834.7C395.78 835.85 398.95 838.37 400 839.1"/>
<path d="M390 828.5C391.67 828.92 396.88 829.97 400 831C403.12 832.03 406.2 833.55 408.7 834.7C411.2 835.85 413.95 837.37 415 837.9"/>
<path d="M405 827.2C406.25 827.83 409.58 830.17 412.5 831C415.42 831.83 420 831.58 422.5 832.2C425 832.82 426.67 834.28 427.5 834.7"/>
<path d="M388.7 837.9C389.53 837.37 391.82 835.75 393.7 834.7C395.58 833.65 397.5 832.63 400 831.6C402.5 830.57 407.25 829.02 408.7 828.5"/>
<path d="M400 839.1C401.03 838.58 403.7 837.03 406.2 836C408.7 834.97 411.87 834.05 415 832.9C418.13 831.75 423.33 829.73 425 829.1"/>
<path d="M415 838.5C416.67 837.87 421.25 835.85 425 834.7C428.75 833.55 435.42 832.12 437.5 831.6"/>
<path d="M362.5 838.5C364.75 838.47 371.83 838.4 376 838.3C380.17 838.2 385.58 837.97 387.5 837.9"/>
<path d="M494.6 880C500.33 880.93 514.43 883.42 529 885.6C543.57 887.78 562.75 890.5 582 893.1C601.25 895.7 623.17 898.18 644.5 901.2C665.83 904.22 692.83 908.7 710 911.2C727.17 913.7 736.05 915.15 747.5 916.2C758.95 917.25 773.5 917.28 778.7 917.5"/>
<path d="M772.5 971.9L772.2 989.4L791.9 994L798.7 976.9"/>
</g>
<g fill="none" stroke="#000" stroke-width="1.3">
<path d="M279 36.7L590.5 36.7"/>
<path d="M212 127.2L212 222"/>
<path d="M212 241.2L212 344.7"/>
<path d="M776.5 96L776.5 177.5"/>
<path d="M776.5 207.5L776.5 281.2"/>
<path d="M724.1 185.7L724.1 227.6"/>
<path d="M724.1 242.9L724.1 281.2"/>
<path d="M421.5 368L421.5 394"/>
<path d="M297 448.5L370 448.5"/>
<path d="M403.7 448.5L669.2 448.5"/>
<path d="M272.5 510.5L380.3 510.5"/>
<path d="M380.3 510.5L692 510.5"/>
<path d="M539 94.4L549.6 122.5"/>
<path d="M560.5 150.6L570.9 177.5"/>
<path d="M570.9 177.5L583.4 183.7"/>
<path d="M621.9 196.2L631.2 200.6"/>
<path d="M74 655.4L405.2 655.4"/>
<path d="M405.2 655.4L788.2 655.4"/>
<path d="M921.4 764.2L921.4 861.1"/>
<path d="M921.4 883.7L921.4 993.7"/>
<path d="M858 847.5L858 906.4"/>
<path d="M858 927.5L858 993.7"/>
</g>
<g fill="#000" stroke="none">
<polygon points="279,36.7 291.5,34.25 291.5,39.15"/>
<polygon points="590.5,36.7 578,39.15 578,34.25"/>
<polygon points="212,127.2 214.5,140.7 209.5,140.7"/>
<polygon points="212,344.7 209.5,331.2 214.5,331.2"/>
<polygon points="776.5,94 779.95,113.5 773.05,113.5"/>
<polygon points="776.5,281.4 773.05,261.9 779.95,261.9"/>
<polygon points="724.1,185.7 727.6,205 720.6,205"/>
<polygon points="724.1,281.3 720.6,262 727.6,262"/>
<polygon points="421.5,366.9 424.1,380.9 418.9,380.9"/>
<polygon points="421.5,395.2 418.9,381.2 424.1,381.2"/>
<polygon points="297,448.5 309.5,446.05 309.5,450.95"/>
<polygon points="370,448.5 357.5,450.95 357.5,446.05"/>
<polygon points="403.7,448.5 423.2,444.9 423.2,452.1"/>
<polygon points="669.2,448.5 649.7,452.1 649.7,444.9"/>
<polygon points="272.5,510.5 291.5,507.2 291.5,513.8"/>
<polygon points="380.2,510.5 361.3,513.8 361.3,507.2"/>
<polygon points="380.4,510.5 399.3,507.2 399.3,513.8"/>
<polygon points="692,510.5 673,513.8 673,507.2"/>
<polygon points="539,94.4 546.57,106.48 541.53,108.43"/>
<polygon points="570.9,177.5 563.33,165.42 568.37,163.47"/>
<polygon points="584.2,184.1 575.03,182.34 577.25,177.86"/>
<polygon points="621.3,195.9 630.47,197.66 628.25,202.14"/>
<polygon points="74.4,655.4 92.8,652.2 92.8,658.6"/>
<polygon points="404.2,655.4 386.3,658.5 386.3,652.3"/>
<polygon points="406.2,655.4 424.1,652.3 424.1,658.5"/>
<polygon points="788,655.4 769.6,658.6 769.6,652.2"/>
<polygon points="921.4,764.3 924.9,783.6 917.9,783.6"/>
<polygon points="921.4,993.8 917.9,974.5 924.9,974.5"/>
<polygon points="858,847.6 861.5,866.9 854.5,866.9"/>
<polygon points="858,993.8 854.5,974.5 861.5,974.5"/>
</g>
<g fill="#000" font-family="'Liberation Sans', sans-serif" font-weight="700" text-anchor="middle" text-rendering="geometricPrecision">
<text x="435" y="32.7" font-size="17.2">51.50&quot;</text>
<text x="216.7" y="236.9" font-size="18">29.00&quot;</text>
<text x="780.7" y="197" font-size="18">35.00&quot;</text>
<text x="728.7" y="239.5" font-size="18">18.50&quot;</text>
<text x="454.6" y="384.8" font-size="18">3.75&quot;</text>
<text x="333.5" y="444.7" font-size="18">25.00&quot;</text>
<text x="539.5" y="444.7" font-size="18">45.50&quot;</text>
<text x="326.9" y="508.4" font-size="18">32.00&quot;</text>
<text x="540" y="507.4" font-size="18">52.00&quot;</text>
<text x="559.2" y="144.7" font-size="18">18.00&quot;</text>
<text x="604.5" y="198.3" font-size="18">22.00&quot;</text>
<text x="233" y="647.5" font-size="18">84.75&quot;</text>
<text x="593.6" y="650.5" font-size="18">109.00&quot;</text>
<text x="925" y="877" font-size="18">35.00&quot;</text>
<text x="858" y="927" font-size="18">24.00&quot;</text>
<text x="157.2" y="730" font-size="18.7">551704LAF</text>
<text x="349.6" y="729" font-size="18.7">551702</text>
<text x="506" y="730.7" font-size="18.7">551701</text>
<text x="666.5" y="728" font-size="18.7">551704RAF</text>
</g>
</svg>
</body></html>
